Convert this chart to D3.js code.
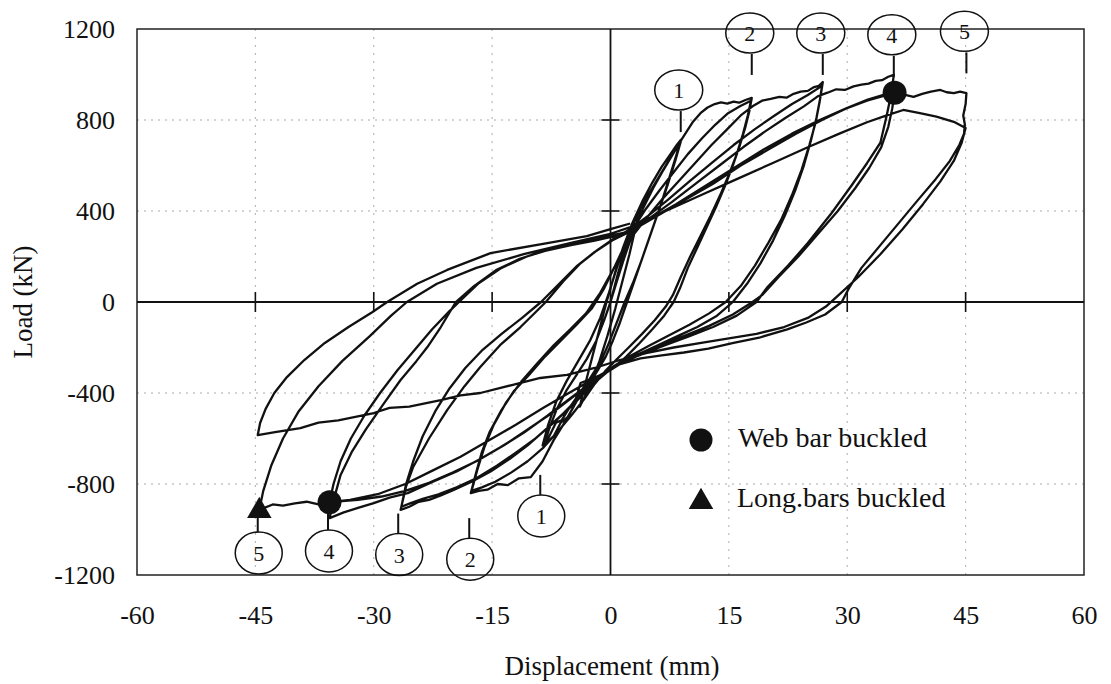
<!DOCTYPE html>
<html>
<head>
<meta charset="utf-8">
<script src="https://cdn.jsdelivr.net/npm/d3@7"></script>
<style>
  body { margin: 0; background: #fff; }
  svg text { font-family: "Liberation Serif", "Times New Roman", serif; fill: #111; }
</style>
</head>
<body>
<svg id="chart" width="1111" height="684"></svg>
<script>
// axis ticks
const xTicks = [-60, -45, -30, -15, 0, 15, 30, 45, 60];
const yTicks = [-1200, -800, -400, 0, 400, 800, 1200];

// load history, one array per half cycle: [displacement (mm), load (kN)]
const toPos4 = [[0,0],[0.9,120],[1.9,240],[2.9,340],[3.9,430]];
const toNeg4 = [[3.9,430],[3.2,330],[2.4,210],[1.5,90],[0.6,-30],[-0.4,-150],[-1.4,-260],[-2.4,-350],[-3.3,-420],[-3.9,-460]];
const toPos9a = [[-3.9,-460],[-3.2,-360],[-2.3,-240],[-1.4,-120],[-0.5,0],[0.5,120],[1.6,240],[2.8,350],[4,440],[5.3,525],[6.5,595],[7.6,650],[8.4,690],[8.9,712]];
const toNeg9a = [[8.9,712],[8.3,640],[7.4,540],[6.4,430],[5.3,320],[4.2,210],[3.1,100],[2.1,0],[1.2,-90],[0.3,-170],[-0.6,-240],[-1.6,-300],[-2.8,-365],[-4.2,-430],[-5.4,-505],[-6.3,-530],[-7.2,-590],[-8,-615],[-8.5,-640]];
const toPos9b = [[-8.5,-640],[-7.8,-560],[-6.8,-470],[-5.6,-390],[-4.3,-320],[-3,-250],[-1.8,-170],[-0.8,-80],[0,0],[0.8,90],[1.8,200],[2.9,310],[4.1,410],[5.4,500],[6.7,580],[7.9,650],[8.9,705]];
const toNeg9b = [[8.9,705],[8.2,620],[7.2,510],[6.1,400],[5,290],[3.9,180],[2.8,80],[1.8,0],[0.8,-90],[-0.2,-180],[-1.2,-260],[-2.5,-330],[-3.9,-400],[-5.3,-470],[-6.2,-520],[-6.9,-530],[-7.9,-600],[-8.6,-630]];
const toPos18a = [[-8.6,-630],[-7.9,-540],[-6.9,-440],[-5.6,-350],[-4.1,-260],[-2.6,-170],[-1.3,-70],[-0.2,40],[0.8,150],[1.8,250],[2.6,330],[3.6,400],[4.6,460],[5.8,530],[7,600],[8.2,670],[9.3,730],[10.4,790],[11.4,830],[12.3,855],[13.2,870],[14,877],[14.8,872],[15.6,881],[16.3,876],[17.1,888],[17.9,897]];
const toNeg18a = [[17.9,897],[17.6,840],[17.1,770],[16.4,690],[15.5,600],[14.5,510],[13.4,420],[12.2,330],[11,240],[9.8,150],[8.8,60],[8,0],[6.8,-60],[5.3,-120],[3.7,-180],[2,-240],[0.4,-290],[-1.2,-320],[-2.6,-340],[-3.8,-356],[-4.7,-462],[-6,-540],[-7.2,-607],[-8.6,-700],[-10.1,-770],[-11.6,-775],[-13,-805],[-14.3,-800],[-15.6,-825],[-16.7,-830],[-17.7,-840]];
const toPos18b = [[-17.7,-840],[-17.1,-760],[-16.3,-660],[-15.3,-570],[-13.9,-480],[-12.2,-390],[-10.3,-320],[-8.3,-240],[-6.3,-170],[-4.3,-100],[-2.4,-30],[-0.8,60],[0.6,160],[1.8,250],[3,330],[4.5,410],[6.2,490],[8,570],[9.8,650],[11.6,720],[13.3,780],[14.9,830],[16.4,860],[17.8,885]];
const toNeg18b = [[17.8,885],[17.4,820],[16.8,740],[16,650],[15,560],[13.9,470],[12.7,380],[11.4,290],[10.1,200],[8.9,110],[7.9,30],[7,-20],[5.6,-80],[4,-140],[2.3,-200],[0.7,-255],[-0.7,-305],[-2,-360],[-3.4,-430],[-5,-500],[-6.7,-570],[-8.5,-640],[-10.5,-700],[-12.6,-750],[-14.6,-790],[-16.3,-815],[-17.6,-830]];
const toPos27a = [[-17.6,-830],[-16.9,-740],[-16,-640],[-14.8,-540],[-13.2,-440],[-11.3,-350],[-9.3,-270],[-7.2,-190],[-5.1,-120],[-3.1,-50],[-1.3,40],[0.3,140],[1.7,230],[3,300],[4.6,370],[6.5,450],[8.6,530],[10.7,610],[12.8,690],[14.8,760],[16.5,820],[18,860],[19.2,885],[20.3,893],[21.4,902],[22.3,898],[23.2,915],[24.1,925],[25,928],[25.8,945],[26.4,950],[26.9,967]];
const toNeg27a = [[26.9,967],[26.6,900],[26.1,810],[25.4,710],[24.5,600],[23.4,490],[22.1,380],[20.6,270],[19,170],[17.3,80],[15.5,0],[13.5,-60],[11,-110],[8.5,-150],[6,-190],[3.5,-230],[1.3,-270],[-0.5,-310],[-2.2,-360],[-4,-420],[-6,-490],[-8.2,-560],[-10.5,-630],[-12.8,-690],[-15.2,-745],[-17.6,-790],[-19.8,-825],[-21.5,-850],[-23,-870],[-24.3,-878],[-25.5,-900],[-26.6,-914]];
const toPos27b = [[-26.6,-914],[-25.9,-810],[-25,-725],[-23,-600],[-20.7,-475],[-18.5,-370],[-16.5,-286],[-14,-190],[-11.4,-110],[-9.5,-45],[-8.2,0],[-6,90],[-3.8,170],[-1.6,230],[0.5,280],[2.5,320],[4.8,380],[7.3,450],[10,530],[12.8,610],[15.6,690],[18.3,760],[20.8,820],[23,870],[25,910],[26.8,950]];
const toNeg27b = [[26.8,950],[26.5,880],[26,790],[25.2,690],[24.2,580],[23,470],[21.6,360],[20,260],[18.3,160],[16.5,70],[14.6,0],[12.5,-50],[10,-100],[7.5,-145],[5,-190],[2.6,-235],[0.5,-280],[-1.3,-330],[-3,-390],[-5,-460],[-7.2,-530],[-9.5,-600],[-11.9,-660],[-14.4,-720],[-17,-775],[-19.5,-815],[-21.8,-845],[-23.8,-865],[-25.4,-885],[-26.5,-900]];
const toPos36a = [[-26.5,-900],[-25.9,-800],[-25,-700],[-23.8,-590],[-22.2,-480],[-20.4,-380],[-18.4,-290],[-16.2,-210],[-13.8,-140],[-11.2,-70],[-8.8,0],[-6.5,80],[-4.2,160],[-2,220],[0.2,270],[2.5,310],[5,370],[7.8,440],[10.8,520],[13.8,600],[16.8,680],[19.6,750],[22.2,810],[24.5,860],[26.3,905],[27.5,920],[28.6,935],[29.7,932],[30.8,948],[31.8,955],[32.7,960],[33.6,972],[34.4,975],[35.2,990],[35.9,998]];
const toNeg36a = [[35.9,998],[35.6,920],[35,820],[34.2,700],[32.5,610],[30.5,510],[28,390],[25,259],[22.5,160],[19.9,66],[18.5,0],[16,-60],[13,-110],[10,-150],[6.5,-195],[3.2,-240],[0.5,-285],[-2,-340],[-4.5,-410],[-7.5,-490],[-10.5,-560],[-13.5,-630],[-16.5,-690],[-19.5,-745],[-22.5,-790],[-25.7,-840],[-28,-860],[-30,-884],[-32,-905],[-33.8,-925],[-35.6,-950]];
const toPos36b = [[-35.6,-950],[-35,-860],[-34.2,-760],[-32.8,-660],[-31,-560],[-28.8,-450],[-26.6,-343],[-24.6,-260],[-23.2,-198],[-21.5,-110],[-19.6,0],[-17.3,70],[-14.5,140],[-11.5,190],[-8.3,225],[-5,250],[-2,270],[0.5,290],[3,320],[6,380],[9.5,450],[13,520],[16.5,600],[20,670],[23.5,740],[26.8,800],[29.8,850],[32.5,885],[34.5,905],[36,920]];
const toNeg36b = [[36,920],[35.7,850],[35.2,770],[34.3,680],[32.8,590],[31,500],[28.8,400],[26.3,300],[23.8,200],[21.3,110],[19.2,30],[18,0],[15.5,-55],[12.5,-105],[9.3,-150],[6,-195],[3,-240],[0.3,-290],[-2.3,-350],[-5,-420],[-8,-500],[-11,-575],[-14,-640],[-17,-700],[-20,-750],[-23,-795],[-26,-830],[-29,-855],[-32,-870],[-34,-875],[-35.6,-880]];
const toPos45a = [[-35.6,-880],[-35.1,-800],[-34.2,-700],[-32.9,-600],[-31.2,-500],[-29.2,-400],[-27,-300],[-24.8,-210],[-22.6,-120],[-20.4,-40],[-19.2,0],[-16.8,80],[-13.8,150],[-10.6,200],[-7.3,240],[-4,265],[-1,285],[1.8,305],[4.8,360],[8.3,430],[12,510],[15.7,590],[19.4,670],[23,740],[26.5,800],[29.8,850],[32.6,890],[34.6,910],[36,922],[37.2,912],[38.4,902],[39.5,915],[40.6,925],[41.8,932],[42.6,922],[43.5,918],[44.3,925],[45.1,918]];
const toNeg45a = [[45.1,918],[45,870],[44.7,820],[44.9,780],[44.8,740],[44.2,690],[43,620],[41.2,540],[39,450],[36.6,350],[34.2,250],[31.8,150],[30.2,60],[29.3,0],[27.2,-55],[24.8,-90],[22.4,-120],[19,-155],[15.6,-180],[12.4,-205],[9.3,-222],[6.5,-235],[3.8,-248],[1,-275],[-2,-335],[-5,-395],[-8.5,-465],[-12,-540],[-15.5,-610],[-19,-680],[-22.5,-740],[-26,-800],[-29.5,-845],[-33,-870],[-35.6,-880],[-37,-890],[-38.5,-878],[-40,-885],[-41.5,-895],[-42.8,-890],[-44.5,-914]];
const toPos45b = [[-44.5,-914],[-44,-830],[-43,-720],[-41.5,-600],[-39.5,-480],[-37,-370],[-34,-260],[-30.5,-150],[-27.8,-60],[-25.8,0],[-22,80],[-17,150],[-11,210],[-5,260],[0,300],[3,335],[7,400],[11.5,470],[16,540],[20.5,610],[25,680],[29,740],[32.5,790],[35,820],[37.1,844],[39.2,830],[41.3,815],[43.5,792],[45,765]];
const toNeg45b = [[45,765],[44.5,700],[43.5,620],[41.8,530],[39.6,430],[37,320],[34.2,210],[31.4,110],[28.9,30],[27.3,-20],[25,-70],[22,-110],[18.5,-140],[15,-160],[11.5,-180],[8,-200],[4.5,-225],[1.2,-255],[-2,-290],[-5.5,-320],[-8.9,-334],[-12.5,-365],[-16.5,-400],[-19,-410],[-21.5,-431],[-25.5,-460],[-28,-465],[-30,-488],[-34.5,-520],[-37,-530],[-39.3,-554],[-42.5,-572],[-44.7,-585]];
const finalReload = [[-44.7,-585],[-44.4,-532],[-43.7,-470],[-42.6,-400],[-41,-330],[-38.8,-255],[-36.2,-180],[-33.2,-110],[-30.2,-45],[-28.3,0],[-24.5,80],[-20.7,141],[-15.2,215],[-8,259],[-3,290],[0,320],[2.5,345]];

const history = [toPos4, toNeg4, toPos9a, toNeg9a, toPos9b, toNeg9b,
    toPos18a, toNeg18a, toPos18b, toNeg18b, toPos27a, toNeg27a, toPos27b, toNeg27b,
    toPos36a, toNeg36a, toPos36b, toNeg36b, toPos45a, toNeg45a, toPos45b, toNeg45b, finalReload];

// cycle number marks
const markNames = ['1', '2', '3', '4', '5'];
const topMarkDisp = [8.9, 17.9, 26.9, 35.9, 45.1];
const topMarkLoad = [747, 998, 998, 990, 1005];
const botMarkDisp = [-8.9, -17.9, -26.9, -35.8, -44.7];
const botMarkLoad = [-760, -950, -930, -914, -923];

// buckling events
const webBuckled = [[36, 920], [-35.6, -880]];
const longBuckled = [[-44.5, -914]];

const svg = d3.select('#chart');

const x = d3.scaleLinear().domain([-60, 60]).range([137, 1084]);
const y = d3.scaleLinear().domain([-1200, 1200]).range([575, 29]);

//grid
svg.append('g')
    .selectAll('line')
    .data(yTicks.filter(d => d !== 0 && Math.abs(d) !== 1200))
    .enter().append('line')
    .attr('x1', x(-60)).attr('x2', x(60))
    .attr('y1', d => y(d)).attr('y2', d => y(d))
    .attr('stroke', '#aaa').attr('stroke-width', 1.2)
    .attr('stroke-dasharray', '2,5');

svg.append('g')
    .selectAll('line')
    .data(xTicks.filter(d => d !== 0 && Math.abs(d) !== 60))
    .enter().append('line')
    .attr('y1', y(-1200)).attr('y2', y(1200))
    .attr('x1', d => x(d)).attr('x2', d => x(d))
    .attr('stroke', '#bbb').attr('stroke-width', 1.2)
    .attr('stroke-dasharray', '2,6');

// frame and zero lines
svg.append('rect')
    .attr('x', x(-60)).attr('y', y(1200))
    .attr('width', x(60) - x(-60)).attr('height', y(-1200) - y(1200))
    .attr('fill', 'none').attr('stroke', '#222').attr('stroke-width', 1.5);

svg.append('line')
    .attr('x1', x(-60)).attr('x2', x(60)).attr('y1', y(0)).attr('y2', y(0))
    .attr('stroke', '#111').attr('stroke-width', 1.8);
svg.append('line')
    .attr('x1', x(0)).attr('x2', x(0)).attr('y1', y(-1200)).attr('y2', y(1200))
    .attr('stroke', '#111').attr('stroke-width', 1.8);

// crossing ticks on the zero lines
svg.append('g')
    .selectAll('line')
    .data(xTicks.filter(d => d !== 0 && Math.abs(d) !== 60))
    .enter().append('line')
    .attr('x1', d => x(d)).attr('x2', d => x(d))
    .attr('y1', y(0) - 10).attr('y2', y(0) + 10)
    .attr('stroke', '#111').attr('stroke-width', 1.6);

svg.append('g')
    .selectAll('line')
    .data(yTicks.filter(d => d !== 0 && Math.abs(d) !== 1200))
    .enter().append('line')
    .attr('x1', x(0) - 9).attr('x2', x(0) + 9)
    .attr('y1', d => y(d)).attr('y2', d => y(d))
    .attr('stroke', '#111').attr('stroke-width', 1.6);

// tick labels, plain hyphen and no thousands separator
let plain = d => String(d);
let xAxis = svg.append('g')
    .attr('transform', `translate(0,${y(-1200)})`)
    .call(d3.axisBottom(x).tickValues(xTicks).tickFormat(plain).tickSize(0).tickPadding(31));
let yAxis = svg.append('g')
    .attr('transform', `translate(${x(-60)},0)`)
    .call(d3.axisLeft(y).tickValues(yTicks).tickFormat(plain).tickSize(0).tickPadding(22));
[xAxis, yAxis].forEach(function(a){
    a.select('.domain').remove();
    a.selectAll('text')
        .attr('font-family', '"Liberation Serif", "Times New Roman", serif')
        .attr('font-size', 26)
        .attr('fill', '#111');
});

// axis titles
svg.append('text')
    .attr('x', 612).attr('y', 675)
    .attr('text-anchor', 'middle')
    .attr('font-size', 27)
    .text('Displacement (mm)');

svg.append('text')
    .attr('transform', `translate(32,${y(0)}) rotate(-90)`)
    .attr('text-anchor', 'middle')
    .attr('font-size', 27)
    .text('Load (kN)');

// hysteresis curve
let points = [];
history.forEach(function(h){
    h.forEach(function(p){ points.push(p); });
});

let line = d3.line()
    .x(d => x(d[0]))
    .y(d => y(d[1]));

svg.append('path')
    .datum(points)
    .attr('d', line)
    .attr('fill', 'none')
    .attr('stroke', '#111')
    .attr('stroke-width', 2.3)
    .attr('stroke-linejoin', 'round');

// numbered cycle marks
let topMarks = svg.append('g').selectAll('g')
    .data(markNames)
    .enter().append('g');
topMarks.append('line')
    .attr('x1', (d, i) => x(topMarkDisp[i])).attr('x2', (d, i) => x(topMarkDisp[i]))
    .attr('y1', (d, i) => y(topMarkLoad[i])).attr('y2', (d, i) => y(topMarkLoad[i]) - 21)
    .attr('stroke', '#111').attr('stroke-width', 2);
topMarks.append('ellipse')
    .attr('cx', (d, i) => x(topMarkDisp[i]) - 2)
    .attr('cy', (d, i) => y(topMarkLoad[i]) - 42)
    .attr('rx', 24).attr('ry', 20)
    .attr('fill', 'none').attr('stroke', '#111').attr('stroke-width', 1.5);
topMarks.append('text')
    .attr('x', (d, i) => x(topMarkDisp[i]) - 2)
    .attr('y', (d, i) => y(topMarkLoad[i]) - 34)
    .attr('text-anchor', 'middle')
    .attr('font-size', 22)
    .text(d => d);

let botMarks = svg.append('g').selectAll('g')
    .data(markNames)
    .enter().append('g');
botMarks.append('line')
    .attr('x1', (d, i) => x(botMarkDisp[i])).attr('x2', (d, i) => x(botMarkDisp[i]))
    .attr('y1', (d, i) => y(botMarkLoad[i])).attr('y2', (d, i) => y(botMarkLoad[i]) + 20)
    .attr('stroke', '#111').attr('stroke-width', 2);
botMarks.append('ellipse')
    .attr('cx', (d, i) => x(botMarkDisp[i]) + 1)
    .attr('cy', (d, i) => y(botMarkLoad[i]) + 41)
    .attr('rx', 23.5).attr('ry', 21)
    .attr('fill', 'none').attr('stroke', '#111').attr('stroke-width', 1.5);
botMarks.append('text')
    .attr('x', (d, i) => x(botMarkDisp[i]) + 1)
    .attr('y', (d, i) => y(botMarkLoad[i]) + 49)
    .attr('text-anchor', 'middle')
    .attr('font-size', 22)
    .text(d => d);

// buckling symbols
let tri = d3.symbol().type(d3.symbolTriangle).size(260);

svg.append('g').selectAll('circle')
    .data(webBuckled)
    .enter().append('circle')
    .attr('cx', d => x(d[0])).attr('cy', d => y(d[1]))
    .attr('r', 12).attr('fill', '#111');

svg.append('g').selectAll('path')
    .data(longBuckled)
    .enter().append('path')
    .attr('d', tri)
    .attr('transform', d => `translate(${x(d[0])},${y(d[1]) + 1})`)
    .attr('fill', '#111');

// legend
svg.append('circle').attr('cx', 701).attr('cy', 440).attr('r', 11.5).attr('fill', '#111');
svg.append('text').attr('x', 738).attr('y', 447).attr('font-size', 28).text('Web bar buckled');
svg.append('path').attr('d', tri).attr('transform', 'translate(701,502)').attr('fill', '#111');
svg.append('text').attr('x', 737).attr('y', 507).attr('font-size', 28).text('Long.bars buckled');
</script>
</body>
</html>
